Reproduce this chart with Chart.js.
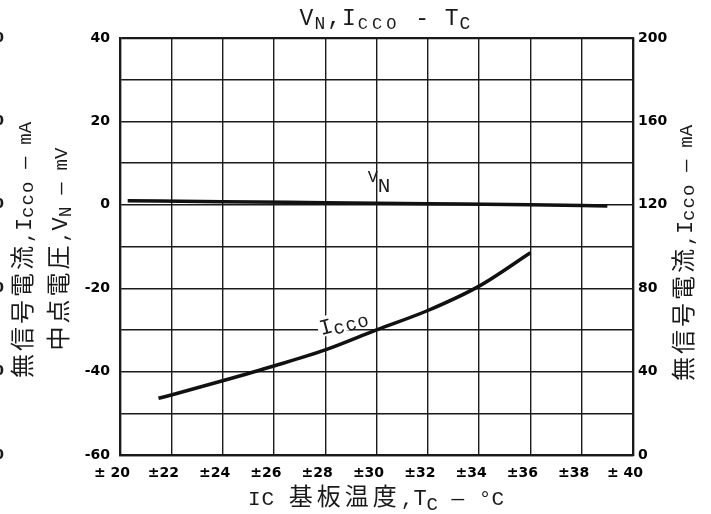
<!DOCTYPE html>
<html lang="ja">
<head>
<meta charset="UTF-8">
<title>VN, Icco - TC</title>
<script src="https://cdn.jsdelivr.net/npm/chart.js@4.4.0/dist/chart.umd.min.js"></script>
<style>
  html, body { margin: 0; padding: 0; background: #fff; }
  #wrap { width: 711px; height: 514px; }
</style>
</head>
<body>
<div id="wrap"><canvas id="chart" width="711" height="514"></canvas></div>
<script>
// x axis: IC substrate temperature
const tempTicks = [20, 22, 24, 26, 28, 30, 32, 34, 36, 38, 40];
const tempLabels = ['± 20', '±22', '±24', '±26', '±28', '±30', '±32', '±34', '±36', '±38', '± 40'];

// left axis (mV) and right axis (mA) labels
const mvTicks = [-60, -40, -20, 0, 20, 40];
const maTicks = [0, 40, 80, 120, 160, 200];

// V_N midpoint voltage, mV
const vnTemp = [20.3, 24, 28, 32, 36, 39];
const vnValues = [1.0, 0.75, 0.5, 0.25, 0.0, -0.3];

// Icco quiescent current, mA
const iccoTemp = [21.5, 22, 24, 26, 28, 30, 32, 34, 36];
const iccoValues = [27.2, 28.8, 35.6, 42.7, 50.4, 60, 69.3, 81, 97];

const MONO = '"Liberation Mono", monospace';
const CJK = '"Noto Sans CJK JP", sans-serif';
const INK = '#1a1a1a';

function seg(t, font, dy, sp) {
  return { t: t, font: font, dy: dy || 0, sp: sp || 0 };
}

function richWidth(ctx, segs) {
  let w = 0;
  for (const s of segs) {
    ctx.font = s.font;
    for (const ch of s.t) w += ctx.measureText(ch).width + s.sp;
  }
  return w;
}

// draws a run of mixed-font text centred on (x, y), optionally rotated
function drawRich(ctx, segs, x, y, rot) {
  ctx.save();
  ctx.translate(x, y);
  if (rot) ctx.rotate(rot);
  ctx.textAlign = 'left';
  ctx.textBaseline = 'alphabetic';
  ctx.fillStyle = INK;
  let cx = -richWidth(ctx, segs) / 2;
  for (const s of segs) {
    ctx.font = s.font;
    for (const ch of s.t) {
      ctx.fillText(ch, cx, s.dy);
      cx += ctx.measureText(ch).width + s.sp;
    }
  }
  ctx.restore();
}

const iccoTitle = () => [
  seg('無信号電流', '24px ' + CJK, 0, 3),
  seg(',', '20px ' + MONO, 0, 0),
  seg('I', '22px ' + MONO, 0, 0),
  seg('cco', '19px ' + MONO, 2, 1),
  seg(' — ', '20px ' + MONO, 0, 0),
  seg('mA', '19px ' + MONO, 0, 0)
];

const textPlugin = {
  id: 'texts',
  afterDraw(chart) {
    const ctx = chart.ctx;
    const sx = chart.scales.x, sy = chart.scales.y, s1 = chart.scales.y1;

    // title
    drawRich(ctx, [
      seg('V', '23px ' + MONO, 0, 1),
      seg('N', '18px ' + MONO, 4, 2),
      seg(',', '23px ' + MONO, 0, 1),
      seg('I', '23px ' + MONO, 0, 2),
      seg('CCO', '17px ' + MONO, 4, 4),
      seg(' - ', '23px ' + MONO, 0, 1),
      seg('T', '23px ' + MONO, 0, 1),
      seg('C', '18px ' + MONO, 4, 0)
    ], 385, 25, 0);

    // left axis titles
    drawRich(ctx, iccoTitle(), 31, 250, -Math.PI / 2);
    drawRich(ctx, [
      seg('中点電圧', '24px ' + CJK, 0, 3),
      seg(',', '20px ' + MONO, 0, 0),
      seg('V', '22px ' + MONO, 0, 0),
      seg('N', '18px ' + MONO, 4, 0),
      seg(' — ', '20px ' + MONO, 0, 0),
      seg('mV', '19px ' + MONO, 0, 0)
    ], 67, 249, -Math.PI / 2);

    // right axis title
    drawRich(ctx, iccoTitle(), 692, 253, -Math.PI / 2);

    // x axis title
    drawRich(ctx, [
      seg('IC ', '21px ' + MONO, 0, 1),
      seg('基板温度', '24px ' + CJK, 0, 4),
      seg(',', '21px ' + MONO, 0, 0),
      seg('T', '22px ' + MONO, 0, 0),
      seg('C', '19px ' + MONO, 5, 0),
      seg(' — ', '21px ' + MONO, 0, 1),
      seg('°C', '21px ' + MONO, 0, 0)
    ], 376, 505, 0);

    // curve labels
    drawRich(ctx, [
      seg('V', '17px ' + MONO, 0, 0),
      seg('N', '21px ' + MONO, 10, 0)
    ], sx.getPixelForValue(30.1), sy.getPixelForValue(5.5), 0);

    const lx = sx.getPixelForValue(28.8), ly = s1.getPixelForValue(62.5);
    ctx.save();
    ctx.translate(lx, ly);
    ctx.rotate(-0.26);
    ctx.fillStyle = '#fff';
    ctx.fillRect(-28, -14, 56, 20);
    ctx.restore();
    drawRich(ctx, [
      seg('I', '22px ' + MONO, 0, 0),
      seg('cco', '19px ' + MONO, 3, 1)
    ], lx, ly + 4, -0.26);

    // cut-off labels of the neighbouring chart at the left edge
    ctx.save();
    ctx.font = 'bold 14px "DejaVu Sans"';
    ctx.fillStyle = INK;
    ctx.textAlign = 'right';
    ctx.textBaseline = 'middle';
    for (const v of mvTicks) ctx.fillText('0', 4, sy.getPixelForValue(v));
    ctx.restore();
  }
};

const tickFont = { family: '"DejaVu Sans"', size: 14, weight: 'bold' };
const edgeWidth = (lo, hi) => (c) => (c.tick && (c.tick.value === lo || c.tick.value === hi)) ? 2.2 : 1.4;

new Chart(document.getElementById('chart'), {
  type: 'line',
  data: {
    datasets: [
      {
        label: 'VN',
        data: vnTemp.map((t, i) => ({ x: t, y: vnValues[i] })),
        yAxisID: 'y',
        borderColor: '#111',
        borderWidth: 3.5,
        pointRadius: 0,
        cubicInterpolationMode: 'monotone'
      },
      {
        label: 'Icco',
        data: iccoTemp.map((t, i) => ({ x: t, y: iccoValues[i] })),
        yAxisID: 'y1',
        borderColor: '#111',
        borderWidth: 3.5,
        pointRadius: 0,
        cubicInterpolationMode: 'monotone'
      }
    ]
  },
  options: {
    responsive: false,
    animation: false,
    devicePixelRatio: 1,
    layout: { padding: { top: 38, left: 0, right: 0, bottom: 0 } },
    plugins: { legend: { display: false }, tooltip: { enabled: false }, title: { display: false } },
    scales: {
      x: {
        type: 'linear',
        min: 20, max: 40,
        afterFit: (s) => { s.height = 59; },
        afterBuildTicks: (s) => { s.ticks = tempTicks.map(v => ({ value: v })); },
        ticks: {
          font: tickFont, color: '#000', padding: 10, labelOffset: -8,
          maxRotation: 0, autoSkip: false,
          callback: (v) => tempLabels[tempTicks.indexOf(v)]
        },
        grid: { color: INK, lineWidth: edgeWidth(20, 40), drawTicks: false },
        border: { color: INK, width: 2.2 }
      },
      y: {
        position: 'left',
        min: -60, max: 40,
        afterFit: (s) => { s.width = 120; },
        ticks: {
          stepSize: 10, font: tickFont, color: '#000', padding: 10,
          callback: (v) => mvTicks.includes(v) ? String(v) : ''
        },
        grid: { color: INK, lineWidth: edgeWidth(-60, 40), drawTicks: false },
        border: { color: INK, width: 2.2 }
      },
      y1: {
        position: 'right',
        min: 0, max: 200,
        afterFit: (s) => { s.width = 78; },
        afterBuildTicks: (s) => { s.ticks = maTicks.map(v => ({ value: v })); },
        ticks: { font: tickFont, color: '#000', padding: 5 },
        grid: { display: false, drawTicks: false },
        border: { color: INK, width: 2.2 }
      }
    }
  },
  plugins: [textPlugin]
});
</script>
</body>
</html>
